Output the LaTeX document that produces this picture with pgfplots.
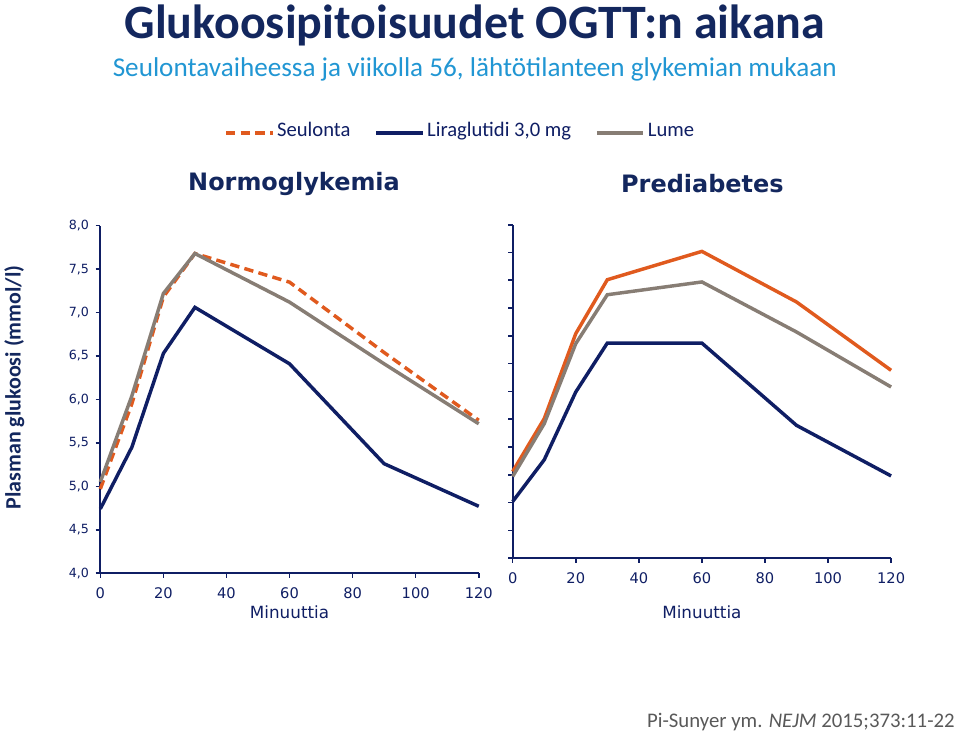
\documentclass[border=0pt]{standalone}
\usepackage{pgfplots}
\pgfplotsset{compat=1.18}
\usepackage{fontspec}
\setmainfont{Carlito}
\newfontfamily\vfont{DejaVu Sans}
\definecolor{navy}{HTML}{0F1E64}
\definecolor{orng}{HTML}{E05A1E}
\definecolor{gry}{HTML}{877D74}
\definecolor{ttl}{HTML}{13275E}
\definecolor{sub}{HTML}{2196D3}
\definecolor{cit}{HTML}{595959}
\begin{document}
\begin{tikzpicture}
\path (0pt,0pt) rectangle (720pt,552.75pt);
\pgfplotsset{
  mystyle/.style={
    scale only axis,
    width=284.25pt,
    xmin=0, xmax=120,
    xtick={0,20,...,120},
    axis x line*=bottom, axis y line*=left,
    axis line style={navy, line width=1.5pt},
    tick style={navy, line width=1.2pt},
    tick align=outside,
    major tick length=3.5pt,
    x tick label style={font=\vfont\fontsize{11}{13}\selectfont, color=navy, yshift=-4pt},
    y tick label style={font=\vfont\fontsize{9.5}{11}\selectfont, color=navy, xshift=-1.5pt},
    /pgf/number format/assume math mode=true,
    xlabel={Minuuttia},
    clip=false,
  }
}
\begin{axis}[mystyle,
  at={(74.25pt,123pt)}, anchor=south west,
  height=261pt,
  ymin=4, ymax=8, ytick={4,4.5,...,8},
  yticklabel style={/pgf/number format/.cd, fixed, fixed zerofill, precision=1, use comma},
  xlabel style={at={(rel axis cs:0.5,0)}, anchor=north, yshift=-21pt, font=\vfont\fontsize{12.6}{14}\selectfont, color=navy},
  legend columns=3,
  legend style={draw=none, fill=none, at={(0.952,1.267)}, anchor=center,
    font=\fontsize{15.5}{17}\selectfont, text=navy,
    nodes={text height=1.6ex, text depth=0.4ex},
    /tikz/every even column/.append style={column sep=16pt}},
  legend image code/.code={\draw[#1] (0pt,0pt) -- (35pt,0pt);},
]
\addplot[orng, line width=2.6pt, dash pattern=on 7pt off 4pt] coordinates {
(0,4.97) (10,5.95) (20,7.18) (30,7.68) (60,7.35) (90,6.54) (120,5.76)};
\addlegendentry{Seulonta}
\addplot[navy, line width=2.6pt] coordinates {
(0,4.74) (10,5.45) (20,6.53) (30,7.06) (60,6.41) (90,5.26) (120,4.77)};
\addlegendentry{Liraglutidi 3,0 mg}
\addplot[gry, line width=2.6pt] coordinates {
(0,5.05) (10,6.04) (20,7.22) (30,7.68) (60,7.12) (90,6.41) (120,5.72)};
\addlegendentry{Lume}
\end{axis}
\begin{axis}[mystyle,
  at={(384pt,134.25pt)}, anchor=south west,
  height=250.5pt,
  ymin=4, ymax=10, ytick={4,4.5,...,10},
  yticklabels={},
  xlabel style={at={(rel axis cs:0.5,0)}, anchor=north, yshift=-32pt, font=\vfont\fontsize{12.6}{14}\selectfont, color=navy},
]
\addplot[orng, line width=2.6pt] coordinates {
(0,5.56) (10,6.51) (20,8.04) (30,9.01) (60,9.52) (90,8.61) (120,7.38)};
\addplot[gry, line width=2.6pt] coordinates {
(0,5.47) (10,6.42) (20,7.86) (30,8.74) (60,8.97) (90,8.07) (120,7.08)};
\addplot[navy, line width=2.6pt] coordinates {
(0,5.02) (10,5.77) (20,6.99) (30,7.87) (60,7.87) (90,6.39) (120,5.48)};
\end{axis}
\node[font=\bfseries\fontsize{36}{42}\selectfont, text=ttl] at (355.5pt,534.75pt) {Glukoosipitoisuudet OGTT:n aikana};
\node[font=\fontsize{20.4}{24}\selectfont, text=sub] at (355.5pt,501.75pt) {Seulontavaiheessa ja viikolla 56, lähtötilanteen glykemian mukaan};
\node[font=\vfont\bfseries\fontsize{18}{21}\selectfont, text=ttl] at (219.75pt,415.5pt) {Normoglykemia};
\node[font=\vfont\bfseries\fontsize{18}{21}\selectfont, text=ttl] at (526.5pt,415.5pt) {Prediabetes};
\node[rotate=90, font=\bfseries\fontsize{16.5}{19}\selectfont, text=ttl] at (9.75pt,262.5pt) {Plasman glukoosi (mmol/l)};
\node[anchor=east, font=\fontsize{15.6}{18}\selectfont, text=cit] at (719.5pt,11.25pt) {Pi-Sunyer ym. \textit{NEJM} 2015;373:11-22};
\end{tikzpicture}
\end{document}
